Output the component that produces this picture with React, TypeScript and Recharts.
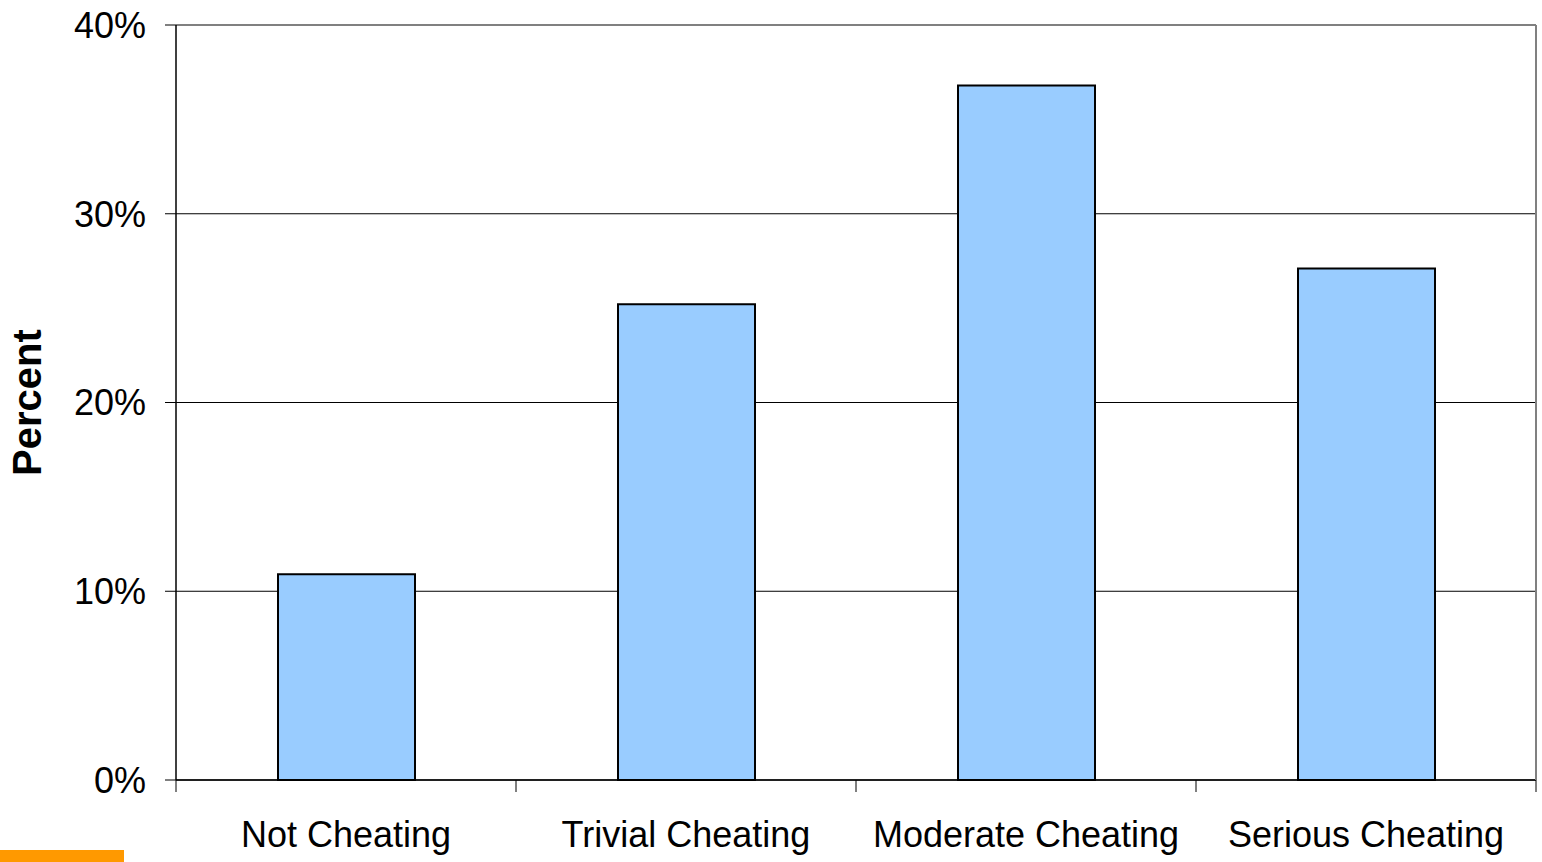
import React from "react";
import {Bar, BarChart, CartesianGrid, ReferenceLine, XAxis, YAxis} from "recharts";

const categories = ["Not Cheating", "Trivial Cheating", "Moderate Cheating", "Serious Cheating"];
const percents = [10.9, 25.2, 36.8, 27.1];
const yTicks = [0, 10, 20, 30, 40];

const data = categories.map((name, i) => ({name, percent: percents[i]}));

const font = "'Liberation Sans', Arial, sans-serif";
const LABEL_GAP = 41;

const PercentLabel = (props: any) => {
  const vb = props.viewBox || {};
  const cy = vb.y + vb.height / 2;
  return (
    <text x={27} y={cy} transform={`rotate(-90, 27, ${cy})`} textAnchor="middle" dominantBaseline="central"
          fontFamily={font} fontSize={40} fontWeight="bold" fill="#000">
      Percent
    </text>
  );
};

// category label plus tick marks on the band edges
const CategoryTick = (props: any) => {
  const {x, y, payload, index, visibleTicksCount, width} = props;
  const half = width / visibleTicksCount / 2;
  const axisY = y - LABEL_GAP;
  return (
    <g>
      <line x1={x - half} x2={x - half} y1={axisY} y2={axisY + 12} stroke="#000"/>
      {index === visibleTicksCount - 1 &&
        <line x1={x + half} x2={x + half} y1={axisY} y2={axisY + 12} stroke="#000"/>}
      <text x={x} y={y} dy="0.71em" textAnchor="middle" fontFamily={font} fontSize={36} fill="#000">
        {payload.value}
      </text>
    </g>
  );
};

export default function App() {
  return (
    <div style={{position: "absolute", left: 0, top: 0, width: 1542, height: 862, background: "#fff"}}>
      <BarChart width={1542} height={862} data={data}
                margin={{top: 25, right: 0, left: 0, bottom: 0}}>
        <CartesianGrid vertical={false} stroke="#000" strokeWidth={1}/>
        <XAxis dataKey="name" height={82} tickLine={false} axisLine={{stroke: "#000", strokeWidth: 1.5}}
               tickSize={0} tickMargin={LABEL_GAP} interval={0} tick={<CategoryTick/>}/>
        <YAxis yAxisId={0} domain={[0, 40]} ticks={yTicks} width={176} tickSize={11} tickMargin={19}
               tickFormatter={(v: number) => `${v}%`} interval={0}
               axisLine={{stroke: "#000", strokeWidth: 1.5}} tickLine={{stroke: "#000"}}
               tick={{fontFamily: font, fontSize: 36, fill: "#000"}}
               label={<PercentLabel/>}/>
        <YAxis yAxisId="right" orientation="right" domain={[0, 40]} width={6} tick={false} tickLine={false}
               axisLine={{stroke: "#808080", strokeWidth: 2}}/>
        <ReferenceLine y={40} stroke="#808080" strokeWidth={2}/>
        <Bar dataKey="percent" fill="#99CCFF" stroke="#000" strokeWidth={2}
             barSize={137} isAnimationActive={false}/>
      </BarChart>
      <div style={{position: "absolute", left: 0, top: 850, width: 124, height: 12, background: "#FF9900"}}/>
    </div>
  );
}
